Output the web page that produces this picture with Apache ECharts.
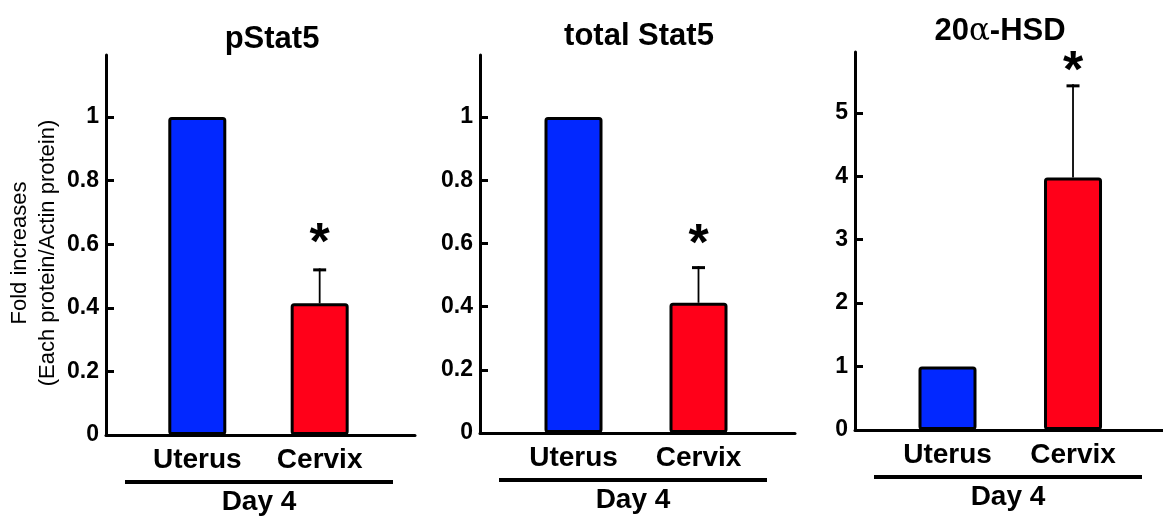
<!DOCTYPE html>
<html>
<head>
<meta charset="utf-8">
<script src="https://cdn.jsdelivr.net/npm/echarts@6/dist/echarts.min.js"></script>
<style>
  html, body { margin: 0; padding: 0; background: #fff; }
  #chart { width: 1163px; height: 518px; }
</style>
</head>
<body>
<div id="chart"></div>
<script>
// Western-blot densitometry, day 4: uterus vs cervix
const categories = ['Uterus', 'Cervix'];
const groupLabel = 'Day 4';
const yAxisTitle = 'Fold increases\n(Each protein/Actin protein)';

const pStat5Mean = [1.0, 0.414];
const pStat5Err = [0, 0.11];
const totalStat5Mean = [1.0, 0.412];
const totalStat5Err = [0, 0.116];
const hsdMean = [1.0, 3.98];
const hsdErr = [0, 1.47];
const significant = [false, true];

const ratioTicks = [0, 0.2, 0.4, 0.6, 0.8, 1];
const hsdTicks = [0, 1, 2, 3, 4, 5];

const barColors = ['#0228ff', '#ff0019'];
const FONT = '"Liberation Sans", Arial, Helvetica, sans-serif';

// layout of each small chart
const panels = [
  { title: 'pStat5', mean: pStat5Mean, err: pStat5Err, ticks: ratioTicks,
    left: 106, top: 55, width: 309, height: 380, yMax: 1.195, xMin: 0.254, xMax: 2.779,
    titleX: 267, titleTop: 19, starGap: 24 },
  { title: 'total Stat5', mean: totalStat5Mean, err: totalStat5Err, ticks: ratioTicks,
    left: 480, top: 55, width: 315, height: 378, yMax: 1.196, xMin: 0.252, xMax: 2.772,
    titleX: 634, titleTop: 16, starGap: 20 },
  { title: '20{a|α}-HSD', mean: hsdMean, err: hsdErr, ticks: hsdTicks,
    left: 855, top: 52, width: 308, height: 378, yMax: 5.96, xMin: 0.263, xMax: 2.717,
    titleX: 995, titleTop: 11, starGap: 12 }
];

const chart = echarts.init(document.getElementById('chart'));

const grid = [], xAxis = [], yAxis = [], series = [], title = [], graphic = [];

panels.forEach((p, i) => {
  grid.push({ left: p.left, top: p.top, width: p.width, height: p.height });

  title.push({
    text: p.title,
    left: p.titleX,
    top: p.titleTop,
    textAlign: 'center',
    textStyle: {
      fontFamily: FONT, fontWeight: 'bold', fontSize: 31, color: '#000',
      rich: { a: { fontFamily: '"DejaVu Serif", serif', fontWeight: 'normal', fontSize: 31, color: '#000' } }
    }
  });

  const xPos = categories.map((c, k) => k + 1);

  xAxis.push({
    type: 'value', gridIndex: i, min: p.xMin, max: p.xMax,
    axisLine: { show: true, onZero: false, lineStyle: { color: '#000', width: 3 } },
    axisTick: { show: false },
    splitLine: { show: false },
    axisLabel: {
      customValues: xPos,
      formatter: v => categories[Math.round(v) - 1] || '',
      fontFamily: FONT, fontWeight: 'bold', fontSize: 28, color: '#000', margin: 11
    }
  });

  yAxis.push({
    type: 'value', gridIndex: i, min: 0, max: p.yMax,
    axisLine: { show: true, lineStyle: { color: '#000', width: 3 } },
    axisTick: { show: true, inside: true, length: 8, customValues: p.ticks, lineStyle: { color: '#000', width: 3 } },
    splitLine: { show: false },
    axisLabel: {
      customValues: p.ticks,
      formatter: v => String(v),
      fontFamily: FONT, fontWeight: 'bold', fontSize: 23, color: '#000', margin: 7
    }
  });

  series.push({
    type: 'bar', xAxisIndex: i, yAxisIndex: i,
    barWidth: 58,
    data: p.mean.map((m, k) => ({
      value: [xPos[k], m],
      itemStyle: { color: barColors[k] }
    })),
    itemStyle: { borderColor: '#000', borderWidth: 3, borderRadius: 2 },
    silent: true, z: 2
  });

  // SEM whiskers and significance marks
  series.push({
    type: 'custom', xAxisIndex: i, yAxisIndex: i, z: 3, silent: true,
    data: p.mean.map((m, k) => [xPos[k], m, p.err[k], significant[k] ? 1 : 0]),
    renderItem: (params, api) => {
      const x = api.value(0), m = api.value(1), e = api.value(2), sig = api.value(3);
      const children = [];
      const base = api.coord([x, m]);
      const top = api.coord([x, m + e]);
      if (e > 0) {
        children.push({ type: 'line', shape: { x1: base[0], y1: base[1], x2: top[0], y2: top[1] },
          style: { stroke: '#000', lineWidth: 1.8 } });
        children.push({ type: 'line', shape: { x1: top[0] - 6.5, y1: top[1] + 1.5, x2: top[0] + 6.5, y2: top[1] + 1.5 },
          style: { stroke: '#000', lineWidth: 3 } });
      }
      if (sig) {
        children.push({ type: 'text', x: top[0], y: top[1] - p.starGap,
          style: { text: '*', fill: '#000', font: 'bold 52px ' + FONT, align: 'center', verticalAlign: 'middle' } });
      }
      return { type: 'group', children };
    }
  });

  // group bracket under the category labels
  const baseY = p.top + p.height;
  graphic.push({
    type: 'line', silent: true,
    shape: { x1: p.left + 19, y1: baseY + 47, x2: p.left + 287, y2: baseY + 47 },
    style: { stroke: '#000', lineWidth: 4 }
  });
  graphic.push({
    type: 'text', silent: true,
    x: p.left + 153, y: baseY + 67,
    style: { text: groupLabel, font: 'bold 28px ' + FONT, fill: '#000', align: 'center', verticalAlign: 'middle' }
  });
});

graphic.push({
  type: 'text', silent: true,
  x: 34, y: 253, rotation: Math.PI / 2,
  style: { text: yAxisTitle, font: '22px ' + FONT, lineHeight: 28, fill: '#000', align: 'center', verticalAlign: 'middle' }
});

chart.setOption({
  backgroundColor: '#fff',
  animation: false,
  title, grid, xAxis, yAxis, series, graphic
});
</script>
</body>
</html>
